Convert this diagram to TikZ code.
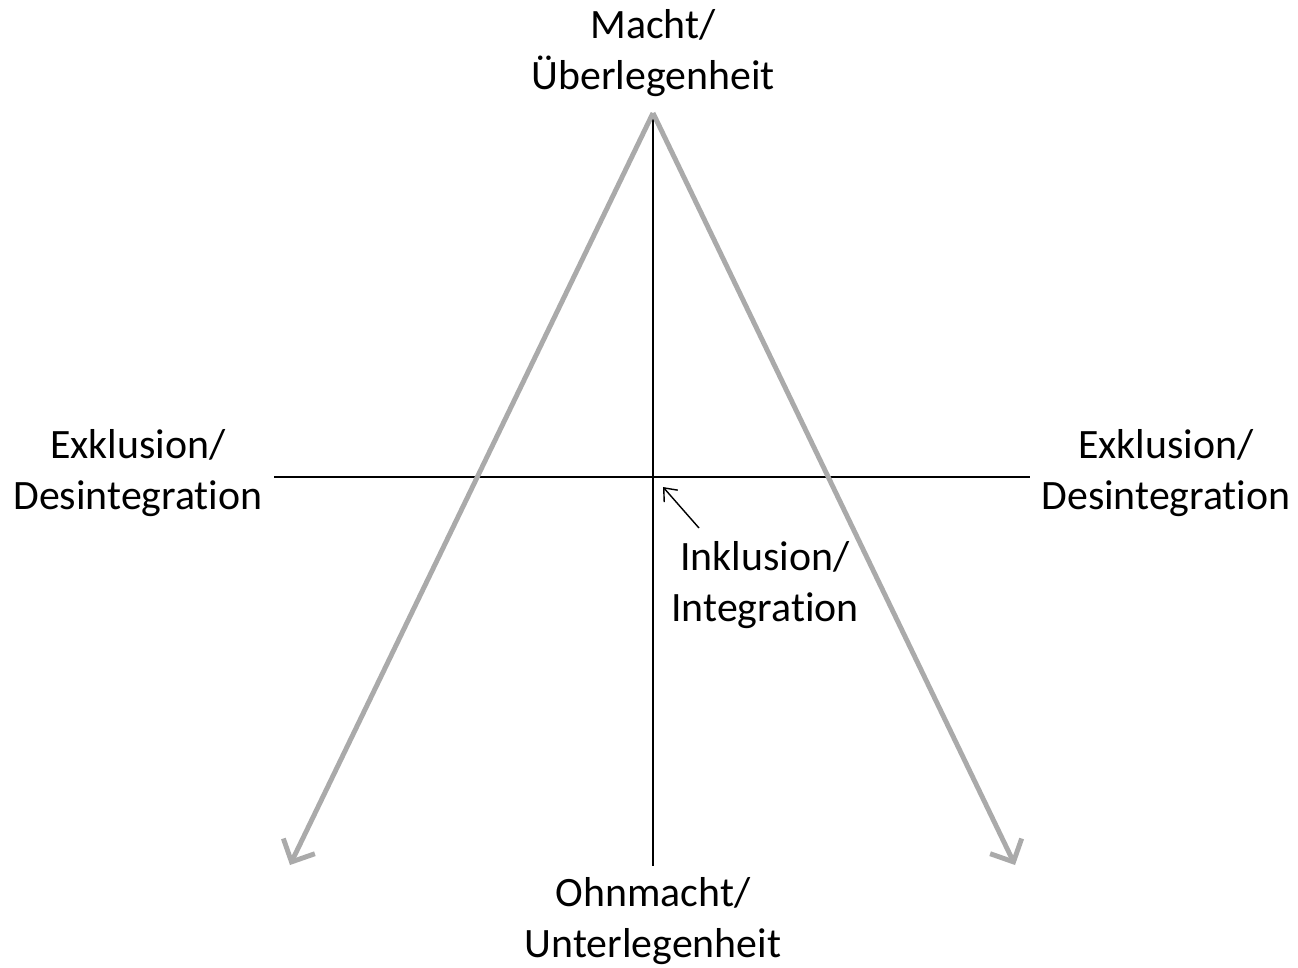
\documentclass[tikz,border=0pt]{standalone}
\usepackage{fontspec}
\setmainfont[Ligatures=NoCommon]{Carlito}
\usepackage{tikz}
\usetikzlibrary{arrows.meta}
\definecolor{armgray}{RGB}{170,170,170}
\tikzstyle{label} = [align=center, font=\fontsize{23.8}{29.5}\selectfont, inner sep=0pt]
\tikzstyle{axis} = [black, line width=0.8pt]
\tikzstyle{arm} = [armgray, line width=2.8pt, -{Straight Barb[length=3.5mm, width=7mm, line width=2.8pt]}]
\tikzstyle{pointer} = [black, line width=0.8pt, -{Straight Barb[length=2.2mm, width=3.6mm]}]

\begin{document}
\begin{tikzpicture}[x=0.02cm, y=-0.02cm]
        \useasboundingbox (0,0) rectangle (1298,967);
        \coordinate (apex) at (653,113);
        \coordinate (leftend) at (290,865);
        \coordinate (rightend) at (1015,865);
        \coordinate (bottom) at (653,866);
        \coordinate (hleft) at (274,477);
        \coordinate (hright) at (1030,477);
        \coordinate (centre) at (663,487);
        \coordinate (inclstart) at (699,528);
        \draw[axis] (apex) -- (bottom);
        \draw[axis] (hleft) -- (hright);
        \draw[arm] (apex) -- (leftend);
        \draw[arm] (apex) -- (rightend);
        \node[label] (power) at (653,53) {Macht/\\Überlegenheit};
        \node[label] (powerless) at (653,921) {Ohnmacht/\\Unterlegenheit};
        \node[label] (exclleft) at (138,473) {Exklusion/\\Desintegration};
        \node[label] (exclright) at (1166,473) {Exklusion/\\Desintegration};
        \node[label] (incl) at (765,585) {Inklusion/\\Integration};
        \draw[pointer] (inclstart) -- (centre);
        % Achsen und Beschriftungen
    \end{tikzpicture}
\end{document}
